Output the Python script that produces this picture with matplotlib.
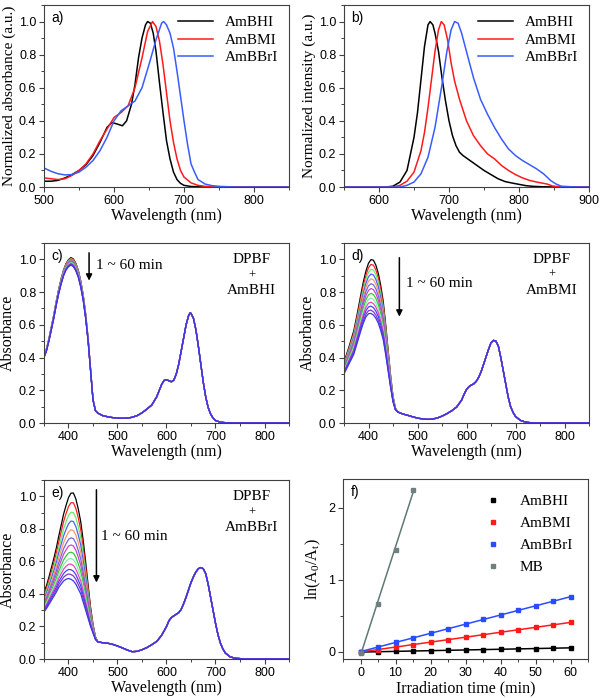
# Absorption/emission spectra of AmBHI, AmBMI, AmBBrI and DPBF photo-bleaching.
import numpy as np
import matplotlib.pyplot as plt
from matplotlib.ticker import AutoMinorLocator, MultipleLocator

# --- a) normalized absorbance -------------------------------------------
abs_hi_wl = [500, 510, 520, 530, 540, 550, 560, 570, 580, 590, 597, 605, 612, 618, 625, 630,
             635, 640, 645, 648, 652, 656, 660, 665, 670, 675, 680, 685, 690, 695, 700, 710,
             730, 850]
abs_hi = [0.035, 0.035, 0.04, 0.055, 0.075, 0.10, 0.135, 0.19, 0.27, 0.36, 0.39, 0.38, 0.37,
          0.40, 0.50, 0.62, 0.78, 0.90, 0.98, 1.0, 0.99, 0.93, 0.82, 0.63, 0.45, 0.28, 0.17,
          0.09, 0.045, 0.022, 0.01, 0.003, 0.0, 0.0]
abs_mi_wl = [500, 510, 520, 530, 540, 550, 560, 570, 580, 590, 600, 610, 620, 630, 640, 648,
             655, 660, 665, 670, 675, 680, 685, 690, 695, 700, 710, 720, 730, 750, 850]
abs_mi = [0.055, 0.05, 0.045, 0.05, 0.07, 0.10, 0.14, 0.20, 0.28, 0.35, 0.42, 0.45, 0.49,
          0.60, 0.78, 0.94, 1.0, 0.97, 0.88, 0.74, 0.57, 0.40, 0.27, 0.17, 0.10, 0.06, 0.025,
          0.01, 0.004, 0.0, 0.0]
abs_bri_wl = [500, 510, 520, 530, 540, 550, 560, 570, 580, 590, 600, 610, 620, 630, 640, 650,
              660, 668, 671, 675, 680, 685, 690, 695, 700, 705, 710, 715, 720, 730, 740, 750,
              770, 850]
abs_bri = [0.115, 0.095, 0.08, 0.073, 0.075, 0.09, 0.12, 0.16, 0.22, 0.30, 0.40, 0.46, 0.49,
           0.52, 0.60, 0.74, 0.89, 0.99, 1.0, 0.98, 0.93, 0.84, 0.70, 0.55, 0.40, 0.26, 0.14,
           0.09, 0.045, 0.018, 0.008, 0.004, 0.0, 0.0]

# --- b) normalized emission ---------------------------------------------
em_hi_wl = [550, 610, 620, 630, 640, 650, 655, 660, 665, 670, 673, 677, 680, 685, 690, 695,
            700, 705, 710, 715, 720, 730, 740, 750, 760, 770, 780, 790, 800, 810, 820, 830,
            850, 900]
em_hi = [0.0, 0.0, 0.005, 0.03, 0.10, 0.30, 0.45, 0.65, 0.85, 0.98, 1.0, 0.98, 0.93, 0.82,
         0.66, 0.52, 0.40, 0.31, 0.25, 0.21, 0.19, 0.16, 0.13, 0.10, 0.075, 0.05, 0.033,
         0.024, 0.016, 0.008, 0.004, 0.002, 0.0, 0.0]
em_mi_wl = [550, 620, 630, 640, 650, 660, 665, 670, 675, 680, 685, 689, 693, 698, 703, 708,
            715, 725, 735, 745, 755, 765, 775, 785, 795, 805, 815, 825, 835, 840, 848, 860,
            900]
em_mi = [0.0, 0.0, 0.01, 0.035, 0.09, 0.22, 0.33, 0.48, 0.65, 0.82, 0.95, 1.0, 0.98, 0.89,
         0.75, 0.64, 0.53, 0.40, 0.31, 0.25, 0.20, 0.17, 0.13, 0.10, 0.075, 0.055, 0.04, 0.03,
         0.022, 0.018, 0.006, 0.0, 0.0]
em_bri_wl = [550, 630, 640, 650, 660, 670, 680, 690, 697, 703, 708, 713, 718, 723, 728, 735,
             745, 755, 765, 775, 785, 795, 805, 815, 825, 835, 845, 852, 860, 880, 900]
em_bri = [0.0, 0.0, 0.01, 0.03, 0.08, 0.18, 0.36, 0.62, 0.82, 0.95, 1.0, 0.99, 0.93, 0.85,
          0.77, 0.66, 0.53, 0.44, 0.36, 0.29, 0.23, 0.19, 0.16, 0.135, 0.11, 0.08, 0.04, 0.02,
          0.005, 0.0, 0.0]

# --- c,d,e) DPBF bleaching: last (60 min) spectrum + DPBF band shape ------
band_wl = [350, 355, 360, 365, 370, 375, 380, 385, 390, 395, 400, 405, 410, 415, 420, 425,
           430, 435, 440, 445, 450, 455, 460]
dpbf_shape = [0.22, 0.26, 0.31, 0.37, 0.43, 0.50, 0.58, 0.67, 0.76, 0.84, 0.92, 0.98, 1.0,
              0.97, 0.91, 0.82, 0.70, 0.55, 0.38, 0.22, 0.10, 0.03, 0.0]

c_band = [0.40, 0.44, 0.50, 0.57, 0.64, 0.72, 0.79, 0.85, 0.90, 0.935, 0.955, 0.965, 0.955,
          0.93, 0.89, 0.83, 0.75, 0.64, 0.50, 0.32, 0.14, 0.075, 0.06]
c_tail_wl = [470, 480, 490, 500, 510, 520, 530, 540, 550, 560, 570, 580, 590, 595, 600, 605,
             610, 615, 620, 625, 630, 635, 640, 645, 648, 650, 655, 660, 665, 670, 675, 680,
             685, 690, 695, 700, 710, 720, 740, 800, 850]
c_tail = [0.045, 0.038, 0.033, 0.03, 0.029, 0.03, 0.035, 0.045, 0.062, 0.085, 0.11, 0.16,
          0.235, 0.26, 0.265, 0.258, 0.252, 0.262, 0.30, 0.36, 0.44, 0.52, 0.60, 0.655, 0.672,
          0.67, 0.64, 0.57, 0.47, 0.36, 0.25, 0.16, 0.095, 0.055, 0.03, 0.015, 0.005, 0.002,
          0.0, 0.0, 0.0]
c_peaks = [1.012, 1.008, 1.004, 1.0, 0.996, 0.992, 0.988, 0.984, 0.98, 0.976, 0.972, 0.968,
           0.965]

d_band = [0.30, 0.33, 0.36, 0.39, 0.42, 0.47, 0.52, 0.57, 0.615, 0.65, 0.668, 0.67, 0.66,
          0.64, 0.61, 0.565, 0.51, 0.42, 0.32, 0.22, 0.13, 0.08, 0.067]
d_tail_wl = [470, 480, 490, 500, 510, 520, 530, 540, 550, 560, 570, 580, 590, 595, 600, 605,
             610, 615, 620, 625, 630, 635, 640, 645, 650, 655, 660, 665, 670, 675, 680, 685,
             690, 695, 700, 710, 720, 730, 740, 800, 850]
d_tail = [0.055, 0.047, 0.038, 0.03, 0.025, 0.022, 0.024, 0.03, 0.042, 0.057, 0.075, 0.098,
          0.14, 0.175, 0.205, 0.222, 0.232, 0.24, 0.255, 0.28, 0.315, 0.36, 0.405, 0.45, 0.49,
          0.505, 0.50, 0.47, 0.40, 0.32, 0.24, 0.16, 0.10, 0.065, 0.04, 0.016, 0.006, 0.002,
          0.0, 0.0, 0.0]
d_peaks = [1.005, 0.975, 0.945, 0.915, 0.885, 0.855, 0.825, 0.795, 0.765, 0.74, 0.715, 0.69,
           0.67]

e_band = [0.29, 0.31, 0.335, 0.36, 0.385, 0.41, 0.44, 0.46, 0.48, 0.49, 0.495, 0.49, 0.48,
          0.46, 0.43, 0.40, 0.35, 0.30, 0.25, 0.20, 0.16, 0.12, 0.105]
e_tail_wl = [470, 480, 490, 500, 510, 520, 530, 540, 550, 560, 570, 580, 590, 600, 605, 610,
             615, 620, 625, 630, 635, 640, 645, 650, 655, 660, 665, 670, 675, 680, 685, 690,
             695, 700, 705, 710, 715, 720, 730, 740, 760, 800, 850]
e_tail = [0.10, 0.097, 0.09, 0.08, 0.068, 0.055, 0.045, 0.047, 0.057, 0.07, 0.088, 0.108,
          0.145, 0.20, 0.235, 0.255, 0.265, 0.275, 0.285, 0.305, 0.34, 0.38, 0.425, 0.47,
          0.505, 0.535, 0.555, 0.562, 0.555, 0.525, 0.46, 0.38, 0.30, 0.22, 0.15, 0.098,
          0.062, 0.037, 0.013, 0.005, 0.0, 0.0, 0.0]
e_peaks = [1.035, 0.975, 0.915, 0.86, 0.805, 0.755, 0.71, 0.665, 0.625, 0.59, 0.555, 0.525,
           0.495]

curve_colors = ['#000000', '#ff2020', '#66ee66', '#5060ee', '#ff9966', '#6a6ae0', '#cc44cc',
                '#33cc33', '#88eeaa', '#ee44bb', '#4444ff', '#8833cc', '#3838e8']

# --- f) kinetics --------------------------------------------------------
t_min = [0, 5, 10, 15, 20, 25, 30, 35, 40, 45, 50, 55, 60]
k_hi = [0.0, 0.0, 0.005, 0.01, 0.015, 0.02, 0.025, 0.03, 0.035, 0.04, 0.045, 0.05, 0.057]
k_mi = [0.0, 0.03, 0.065, 0.10, 0.135, 0.17, 0.20, 0.235, 0.27, 0.305, 0.34, 0.375, 0.41]
k_bri = [0.0, 0.065, 0.13, 0.19, 0.26, 0.32, 0.385, 0.45, 0.515, 0.575, 0.64, 0.70, 0.76]
t_mb = [0, 5, 10, 15]
k_mb = [-0.01, 0.667, 1.417, 2.25]

plt.rcParams['font.family'] = 'Liberation Sans'
plt.rcParams['mathtext.fontset'] = 'custom'
plt.rcParams['mathtext.rm'] = 'Liberation Serif'
plt.rcParams['mathtext.it'] = 'Liberation Serif'
serif = 'Liberation Serif'
frame = '#404040'

fig = plt.figure(figsize=(6, 6.98), dpi=100)
W, H = 600, 698


def make_axes(left, top, right, bottom):
    ax = fig.add_axes([left / W, 1 - bottom / H, (right - left) / W, (bottom - top) / H])
    for s in ax.spines.values():
        s.set_color(frame)
        s.set_linewidth(0.8)
    ax.tick_params(direction='out', length=3.5, width=0.8, labelsize=9, color=frame,
                   pad=2)
    ax.tick_params(which='minor', direction='out', length=2, width=0.7, color=frame)
    ax.xaxis.set_minor_locator(AutoMinorLocator(2))
    ax.yaxis.set_minor_locator(AutoMinorLocator(2))
    return ax


def panel_label(ax, s):
    ax.text(0.03, 0.93, s, transform=ax.transAxes, fontsize=10, ha='left', va='center')


# a)
ax = make_axes(44, 5, 289, 187)
ax.plot(abs_hi_wl, abs_hi, color='black', lw=1.1, label='AmBHI')
ax.plot(abs_mi_wl, abs_mi, color='#ff1a1a', lw=1.1, label='AmBMI')
ax.plot(abs_bri_wl, abs_bri, color='#3a5cff', lw=1.1, label='AmBBrI')
ax.set_xlim(500, 850)
ax.set_ylim(0, 1.1)
ax.xaxis.set_major_locator(MultipleLocator(100))
ax.yaxis.set_major_locator(MultipleLocator(0.2))
ax.set_xlabel('Wavelength (nm)', family=serif, fontsize=11.5, labelpad=1)
ax.set_ylabel('Normalized absorbance (a.u.)', family=serif, fontsize=11, labelpad=2)
ax.legend(loc='upper right', frameon=False, prop={'family': serif, 'size': 11},
          handlelength=2.3, labelspacing=0.25, borderaxespad=0.3)
panel_label(ax, 'a)')

# b)
ax = make_axes(344, 5, 589, 187)
ax.plot(em_hi_wl, em_hi, color='black', lw=1.1, label='AmBHI')
ax.plot(em_mi_wl, em_mi, color='#ff1a1a', lw=1.1, label='AmBMI')
ax.plot(em_bri_wl, em_bri, color='#3a5cff', lw=1.1, label='AmBBrI')
ax.set_xlim(550, 900)
ax.set_ylim(0, 1.1)
ax.xaxis.set_major_locator(MultipleLocator(100))
ax.yaxis.set_major_locator(MultipleLocator(0.2))
ax.set_xlabel('Wavelength (nm)', family=serif, fontsize=11.5, labelpad=1)
ax.set_ylabel('Normalized intensity (a.u.)', family=serif, fontsize=11, labelpad=2)
ax.legend(loc='upper right', frameon=False, prop={'family': serif, 'size': 11},
          handlelength=2.3, labelspacing=0.25, borderaxespad=0.3)
panel_label(ax, 'b)')


def bleach_panel(box, band, tail_wl, tail, peaks, name, label, arrow, txt, dpbf_y):
    ax = make_axes(*box)
    wl = band_wl + tail_wl
    base = np.array(band + tail)
    shape = np.array(dpbf_shape + [0.0] * len(tail))
    for pk, col in zip(peaks, curve_colors):
        ax.plot(wl, base + (pk - peaks[-1]) * shape, color=col, lw=0.9)
    ax.set_xlim(350, 850)
    ax.set_ylim(0, 1.1)
    ax.xaxis.set_major_locator(MultipleLocator(100))
    ax.yaxis.set_major_locator(MultipleLocator(0.2))
    ax.set_xlabel('Wavelength (nm)', family=serif, fontsize=11.5, labelpad=1)
    ax.set_ylabel('Absorbance', family=serif, fontsize=11.5, labelpad=2)
    ax.annotate('', xy=(arrow[0], arrow[2]), xytext=(arrow[0], arrow[1]),
                arrowprops=dict(arrowstyle='-|>', color='black', lw=1.1, mutation_scale=9,
                                shrinkA=0, shrinkB=0))
    ax.text(txt[0], txt[1], '1 ~ 60 min', family=serif, fontsize=11, ha='left',
            va='center')
    ax.text(774, dpbf_y[0], 'DPBF', family=serif, fontsize=11, ha='center', va='center')
    ax.text(774, dpbf_y[1], '+', family=serif, fontsize=9, ha='center', va='center')
    ax.text(774, dpbf_y[2], name, family=serif, fontsize=11, ha='center', va='center')
    panel_label(ax, label)
    return ax


bleach_panel((44, 243, 289, 423), c_band, c_tail_wl, c_tail, c_peaks, 'AmBHI', 'c)',
             (442, 1.04, 0.87), (457, 0.965), (1.0, 0.902, 0.81))
bleach_panel((344, 243, 589, 423), d_band, d_tail_wl, d_tail, d_peaks, 'AmBMI', 'd)',
             (463, 1.01, 0.65), (476, 0.85), (1.0, 0.907, 0.81))
bleach_panel((44, 480, 289, 659), e_band, e_tail_wl, e_tail, e_peaks, 'AmBBrI', 'e)',
             (457, 1.04, 0.47), (467, 0.75), (1.0, 0.902, 0.81))

# f)
ax = make_axes(343, 479, 588, 659)
series = [(k_hi, 'black', 'AmBHI'), (k_mi, '#ff1a1a', 'AmBMI'),
          (k_bri, '#2a4cff', 'AmBBrI')]
for k, col, lab in series:
    fit = np.polyfit(t_min, k, 1)
    ax.plot([0, 60], np.polyval(fit, [0, 60]), color=col, lw=1.1)
    ax.plot(t_min, k, 's', color=col, ms=3.5, label=lab)
fit = np.polyfit(t_mb, k_mb, 1)
ax.plot([0, 15], np.polyval(fit, [0, 15]), color='#607878', lw=1.1)
ax.plot(t_mb, k_mb, 's', color='#708080', ms=3.5, label='MB')
ax.set_xlim(-5, 65)
ax.set_ylim(-0.1, 2.4)
ax.xaxis.set_major_locator(MultipleLocator(10))
ax.yaxis.set_major_locator(MultipleLocator(1))
ax.set_xlabel('Irradiation time (min)', family=serif, fontsize=11.5, labelpad=1)
ax.set_ylabel(r'ln(A$_\mathrm{0}$/A$_\mathrm{t}$)', family=serif, fontsize=11.5,
              labelpad=4)
ax.legend(loc='upper right', frameon=False, prop={'family': serif, 'size': 11},
          handlelength=1.0, handletextpad=1.2, labelspacing=0.55, borderaxespad=0.6)
panel_label(ax, 'f)')

fig.savefig('out.png', dpi=100)
